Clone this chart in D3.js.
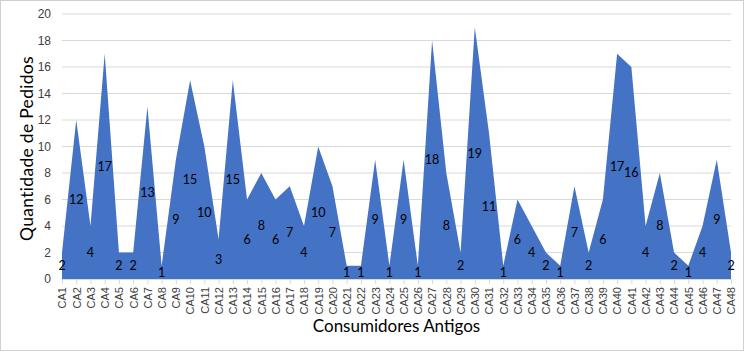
<!DOCTYPE html>
<html>
<head>
<meta charset="utf-8">
<script src="https://cdn.jsdelivr.net/npm/d3@7"></script>
<style>
	body { margin: 0; background: #fff; }
	svg { display: block; font-family: Lato, "Open Sans", sans-serif; }
</style>
</head>
<body>
<div id="chart"></div>
<script>
// data
const categories = d3.range(1, 49).map((i) => "CA" + i);
const pedidos = [
	2, 12, 4, 17, 2, 2, 13, 1, 9, 15, 10, 3, 15, 6, 8, 6, 7, 4, 10, 7, 1, 1, 9, 1,
	9, 1, 18, 8, 2, 19, 11, 1, 6, 4, 2, 1, 7, 2, 6, 17, 16, 4, 8, 2, 1, 4, 9, 2
];
const yTicks = [0, 2, 4, 6, 8, 10, 12, 14, 16, 18, 20];

const data = categories.map((c, i) => ({ cat: c, value: pedidos[i] }));

// sizes
const width = 744;
const height = 351;
const margin = { top: 14, right: 13, bottom: 72, left: 62 };
const boundedWidth = width - margin.left - margin.right;
const boundedHeight = height - margin.top - margin.bottom;

const svg = d3.select("#chart").append("svg")
	.attr("width", width)
	.attr("height", height);

// outer border
svg.append("rect")
	.attr("x", 0.5).attr("y", 0.5)
	.attr("width", width - 1).attr("height", height - 1)
	.attr("fill", "#fff")
	.attr("stroke", "#d0d0d0");

const bounds = svg.append("g")
	.attr("transform", `translate(${margin.left},${margin.top})`);

// scales
const xScale = d3.scalePoint().domain(categories).range([0, boundedWidth]);
const yScale = d3.scaleLinear().domain([0, 20]).range([boundedHeight, 0]);

// gridlines
bounds.selectAll(".grid")
	.data(yTicks.filter((t) => t > 0))
	.enter().append("line")
	.attr("x1", 0).attr("x2", boundedWidth)
	.attr("y1", (d) => yScale(d)).attr("y2", (d) => yScale(d))
	.attr("stroke", "#d9d9d9").attr("stroke-width", 1);

// area
const area = d3.area()
	.x((d) => xScale(d.cat))
	.y0(yScale(0))
	.y1((d) => yScale(d.value));

bounds.append("path")
	.datum(data)
	.attr("d", area)
	.attr("fill", "#4472c4");

// x axis
const xAxis = bounds.append("g")
	.attr("transform", `translate(0,${boundedHeight})`)
	.call(d3.axisBottom(xScale).tickSize(5).tickPadding(3));
xAxis.select(".domain").attr("stroke", "#d9d9d9");
xAxis.selectAll(".tick line").attr("stroke", "#d9d9d9");
xAxis.selectAll(".tick text")
	.attr("transform", "rotate(-90)")
	.attr("x", -8).attr("y", 0).attr("dy", "0.35em")
	.style("text-anchor", "end")
	.attr("fill", "#404040")
	.style("font-size", "11px");

// y axis
const yAxis = bounds.append("g")
	.call(d3.axisLeft(yScale).tickValues(yTicks).tickSize(0).tickPadding(11));
yAxis.select(".domain").remove();
yAxis.selectAll(".tick text")
	.attr("fill", "#404040")
	.style("font-size", "12px");

// data labels
bounds.selectAll(".label")
	.data(data)
	.enter().append("text")
	.attr("class", "label")
	.attr("x", (d) => xScale(d.cat))
	.attr("y", (d) => yScale(d.value / 2))
	.attr("dy", "0.35em")
	.attr("text-anchor", "middle")
	.attr("fill", "#000")
	.style("font-size", "12.5px")
	.text((d) => d.value);

// axis titles
svg.append("text")
	.attr("x", margin.left + boundedWidth / 2)
	.attr("y", 332)
	.attr("text-anchor", "middle")
	.attr("fill", "#000")
	.style("font-size", "17px")
	.text("Consumidores Antigos");

svg.append("text")
	.attr("transform", `translate(33,${margin.top + boundedHeight / 2 + 2}) rotate(-90)`)
	.attr("text-anchor", "middle")
	.attr("fill", "#000")
	.style("font-size", "17.5px")
	.style("letter-spacing", "0.3px")
	.text("Quantidade de Pedidos");
</script>
</body>
</html>
